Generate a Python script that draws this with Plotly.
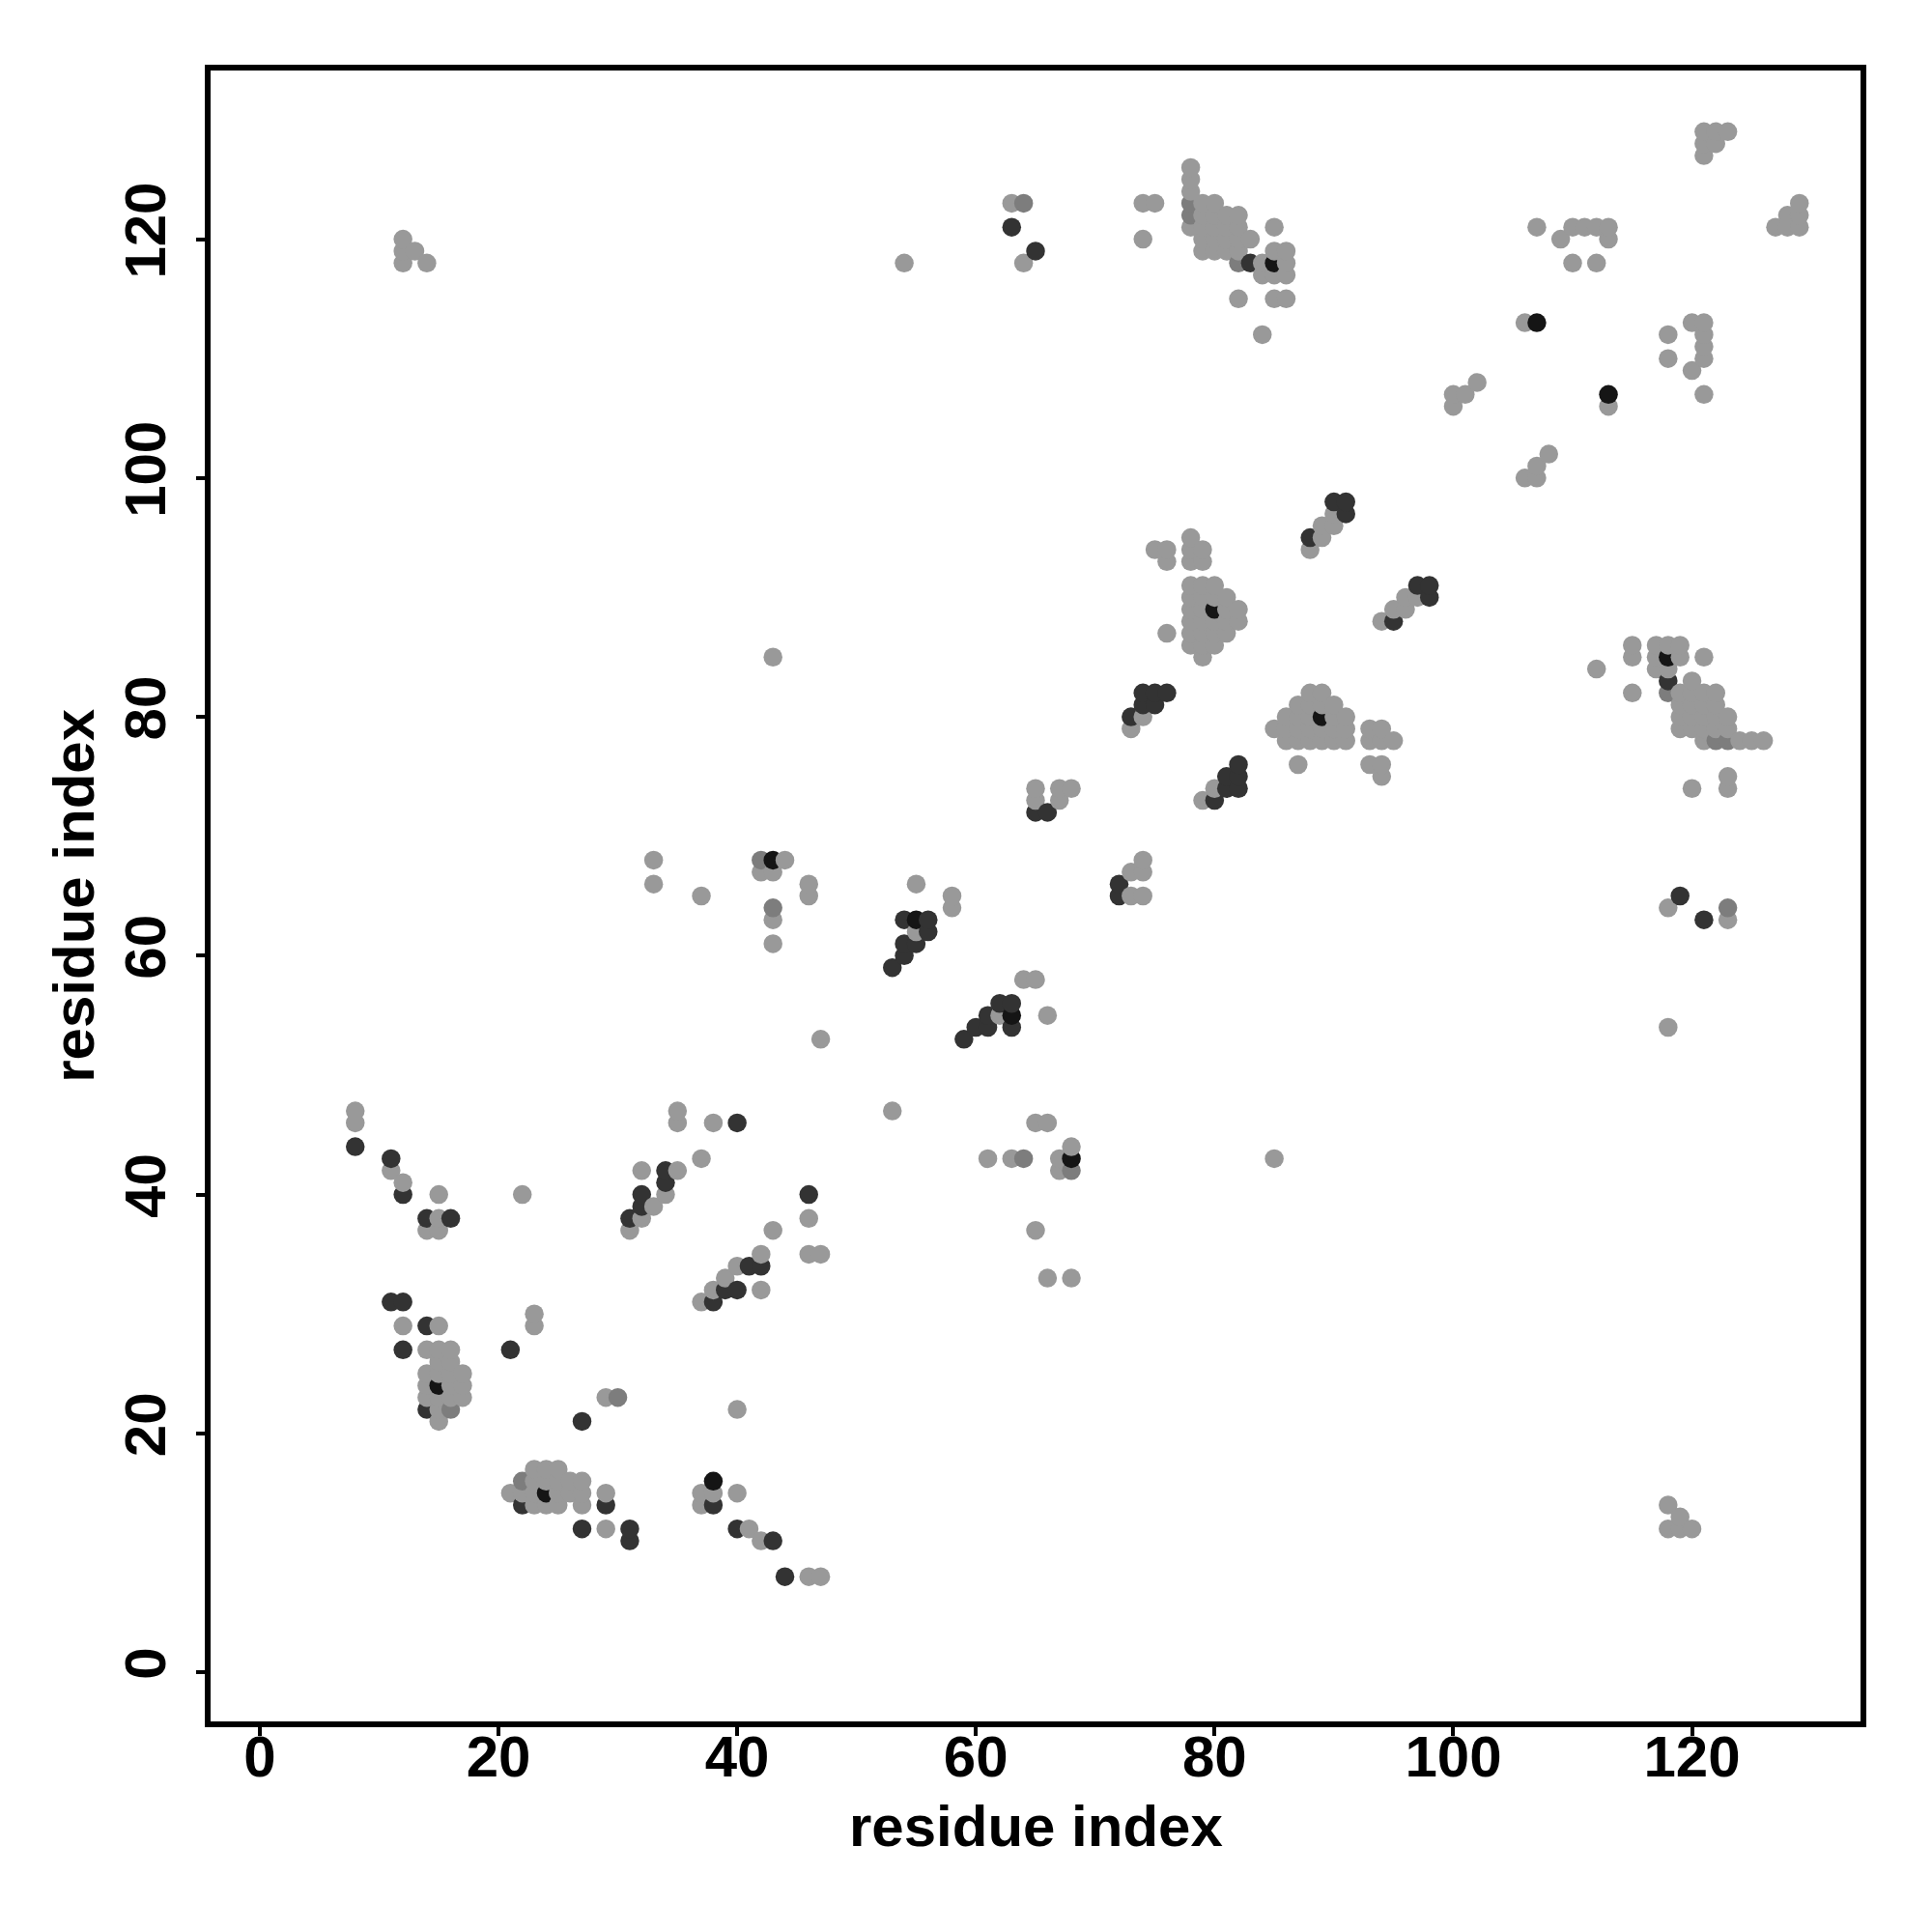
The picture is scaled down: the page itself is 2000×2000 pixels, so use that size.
import plotly.graph_objects as go

# contact points (residue i, residue j), grouped by shade
black_pts = [(43, 68), (68, 43), (55, 63), (63, 55), (85, 118), (118, 85), (38, 16),
             (113, 107), (107, 113), (80, 89), (89, 80), (24, 15), (15, 24)]

dark_pts = [(8, 44), (44, 8), (11, 43), (43, 11), (12, 40), (40, 12), (14, 38), (38, 14), (16, 38),
            (34, 42), (42, 34), (34, 41), (41, 34), (32, 40), (40, 32), (32, 39), (39, 32),
            (31, 38), (38, 31), (11, 31), (31, 11), (12, 31), (31, 12), (14, 29), (29, 14),
            (12, 27), (27, 12), (21, 27), (27, 21), (14, 22), (22, 14), (46, 40), (40, 46),
            (63, 121), (121, 63), (65, 119), (119, 65), (83, 118), (118, 83),
            (54, 63), (56, 63), (56, 62), (54, 61), (55, 61), (54, 60), (53, 59),
            (63, 54), (63, 56), (62, 56), (61, 54), (61, 55), (60, 54), (59, 53),
            (65, 72), (66, 72), (72, 65), (72, 66),
            (73, 80), (80, 73), (74, 81), (75, 81), (81, 74), (81, 75), (74, 82), (75, 82),
            (76, 82), (82, 74), (82, 75), (82, 76),
            (88, 95), (95, 88), (90, 98), (91, 98), (91, 97), (98, 90), (98, 91), (97, 91)]

medium_pts = [(64, 43), (43, 64), (64, 123), (123, 64), (78, 123), (78, 122), (122, 78), (123, 78),
              (42, 68), (68, 42), (30, 23), (82, 118), (118, 82), (22, 16), (16, 22)]

gray_pts = [
    (12, 120), (12, 119), (13, 119), (12, 118), (14, 118),
    (120, 12), (119, 12), (119, 13), (118, 12), (118, 14),
    (54, 118), (118, 54), (63, 123), (123, 63), (64, 118), (118, 64),
    (11, 42), (42, 11), (12, 41), (41, 12), (15, 40), (40, 15), (22, 40), (40, 22),
    (15, 38), (38, 15), (14, 37), (37, 14), (15, 37), (37, 15),
    (8, 46), (8, 47), (46, 8), (47, 8),
    (32, 42), (42, 32), (35, 42), (42, 35), (37, 43), (43, 37),
    (34, 40), (40, 34), (33, 39), (39, 33), (32, 38), (38, 32), (31, 37), (37, 31),
    (12, 29), (29, 12), (15, 29), (29, 15), (23, 30), (23, 29), (29, 23),
    (14, 27), (15, 27), (16, 27), (15, 26), (16, 26), (14, 25), (15, 25), (16, 25), (17, 25),
    (14, 24), (16, 24), (17, 24), (14, 23), (15, 23), (16, 23), (17, 23), (15, 22), (15, 21),
    (27, 14), (27, 15), (27, 16), (26, 15), (26, 16), (25, 14), (25, 15), (25, 16), (25, 17),
    (24, 14), (24, 16), (24, 17), (23, 14), (23, 15), (23, 16), (23, 17), (22, 15), (21, 15),
    (35, 47), (35, 46), (38, 46), (47, 35), (46, 35), (46, 38),
    (43, 85), (85, 43), (47, 53), (53, 47),
    (33, 68), (68, 33), (33, 66), (66, 33), (37, 65), (65, 37),
    (44, 68), (68, 44), (42, 67), (67, 42), (43, 67), (67, 43), (46, 66), (66, 46),
    (46, 65), (65, 46), (43, 63), (63, 43), (43, 61), (61, 43),
    (55, 66), (66, 55), (58, 65), (65, 58), (58, 64), (64, 58), (55, 62), (62, 55),
    (65, 74), (74, 65), (67, 74), (74, 67), (68, 74), (74, 68), (65, 73), (73, 65),
    (67, 73), (73, 67), (74, 80), (80, 74), (73, 79), (79, 73),
    (75, 94), (94, 75), (76, 94), (94, 76), (76, 93), (93, 76), (78, 95), (95, 78),
    (78, 94), (94, 78), (79, 94), (94, 79), (78, 93), (93, 78), (79, 93), (93, 79),
    (88, 94), (94, 88), (89, 95), (95, 89), (89, 96), (96, 89), (90, 96), (96, 90),
    (90, 97), (97, 90),
    (78, 91), (79, 91), (80, 91), (78, 90), (79, 90), (80, 90), (81, 90), (78, 89), (79, 89),
    (81, 89), (82, 89), (78, 88), (79, 88), (80, 88), (81, 88), (82, 88), (76, 87), (78, 87),
    (79, 87), (80, 87), (81, 87), (78, 86), (79, 86), (80, 86), (79, 85),
    (91, 78), (91, 79), (91, 80), (90, 78), (90, 79), (90, 80), (90, 81), (89, 78), (89, 79),
    (89, 81), (89, 82), (88, 78), (88, 79), (88, 80), (88, 81), (88, 82), (87, 76), (87, 78),
    (87, 79), (87, 80), (87, 81), (86, 78), (86, 79), (86, 80), (85, 79),
    (78, 126), (78, 125), (78, 124), (74, 123), (75, 123), (79, 123), (80, 123), (79, 122),
    (80, 122), (81, 122), (82, 122), (78, 121), (79, 121), (80, 121), (81, 121), (82, 121),
    (85, 121), (74, 120), (79, 120), (80, 120), (81, 120), (82, 120), (83, 120), (79, 119),
    (80, 119), (81, 119), (82, 119), (85, 119), (86, 119), (84, 118), (86, 118), (84, 117),
    (85, 117), (86, 117), (82, 115), (85, 115), (86, 115), (84, 112),
    (126, 78), (125, 78), (124, 78), (123, 74), (123, 75), (123, 79), (123, 80), (122, 79),
    (122, 80), (122, 81), (122, 82), (121, 78), (121, 79), (121, 80), (121, 81), (121, 82),
    (121, 85), (120, 74), (120, 79), (120, 80), (120, 81), (120, 82), (120, 83), (119, 79),
    (119, 80), (119, 81), (119, 82), (119, 85), (119, 86), (118, 84), (118, 86), (117, 84),
    (117, 85), (117, 86), (115, 82), (115, 85), (115, 86), (112, 84),
    (100, 107), (107, 100), (101, 107), (107, 101), (100, 106), (106, 100), (102, 108), (108, 102),
    (106, 113), (113, 106),
    (107, 121), (121, 107), (109, 120), (120, 109), (110, 121), (121, 110), (111, 121), (121, 111),
    (112, 121), (121, 112), (113, 121), (121, 113), (113, 120), (120, 113), (110, 118), (118, 110),
    (112, 118), (118, 112),
    (121, 129), (129, 121), (122, 129), (129, 122), (123, 129), (129, 123), (121, 128), (128, 121),
    (122, 128), (128, 122), (121, 127), (127, 121),
]

shade_colors = {"black": "#151515", "dark": "#333333", "medium": "#7d7d7d", "gray": "#999999"}

tick_vals = [0, 20, 40, 60, 80, 100, 120]
axis_title = "residue index"

FONT = "Liberation Sans"

# one combined list, drawn in residue order so overlaps stack as in the original
records = ([(x, y, "black") for x, y in black_pts] + [(x, y, "dark") for x, y in dark_pts] +
           [(x, y, "medium") for x, y in medium_pts] + [(x, y, "gray") for x, y in gray_pts])
records.sort(key=lambda r: (r[0], r[1]))

fig = go.Figure()
fig.add_trace(go.Scatter(
    x=[r[0] for r in records], y=[r[1] for r in records], mode="markers",
    marker=dict(size=19.5, color=[shade_colors[r[2]] for r in records], line=dict(width=0)),
    showlegend=False, hoverinfo="x+y"))

axis_common = dict(
    range=[-4.12, 134.12], tickvals=tick_vals, ticktext=[str(v) for v in tick_vals],
    showgrid=False, zeroline=False, showline=True, mirror=True, linecolor="black",
    linewidth=6, ticks="outside", ticklen=9, tickwidth=4, tickcolor="black",
    tickfont=dict(family=FONT, size=60, color="black", weight="bold"),
)
fig.update_xaxes(**axis_common, ticklabelstandoff=-30)
fig.update_yaxes(**axis_common, tickangle=-90, ticklabelstandoff=8)

fig.add_annotation(text=axis_title, xref="paper", yref="paper", x=0.5, y=-0.0635,
                   xanchor="center", yanchor="middle", showarrow=False,
                   font=dict(family=FONT, size=60, color="black", weight="bold"))
fig.add_annotation(text=axis_title, xref="paper", yref="paper", x=-0.083, y=0.5,
                   xanchor="center", yanchor="middle", showarrow=False, textangle=-90,
                   font=dict(family=FONT, size=60, color="black", weight="bold"))

# page body adds an 8px offset; margins compensate so the frame lands where the original's does
fig.update_layout(
    width=2000, height=2000, autosize=False,
    margin=dict(l=210, r=82, t=65, b=226, pad=0),
    paper_bgcolor="white", plot_bgcolor="white",
)

fig.write_html("out.html")
